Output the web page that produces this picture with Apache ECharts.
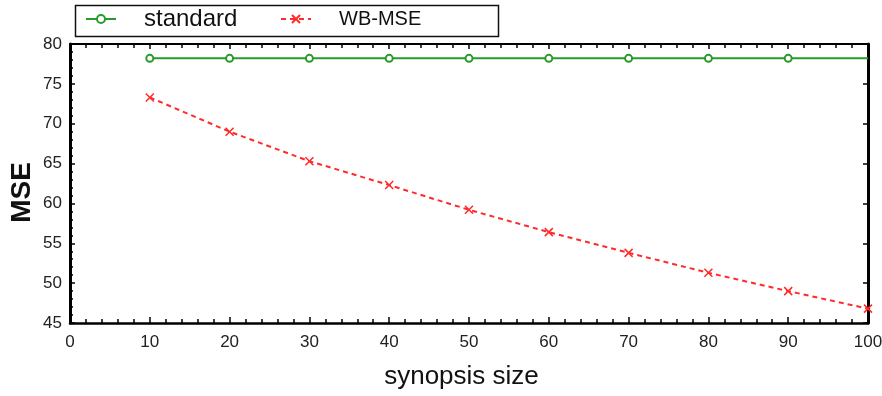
<!DOCTYPE html>
<html><head><meta charset="utf-8">
<script src="https://cdn.jsdelivr.net/npm/echarts@6/dist/echarts.min.js"></script>
<style>html,body{margin:0;padding:0;background:#fff}#c{width:882px;height:396px}</style>
</head><body><div id="c"></div>
<script>
var synopsisSizes = [10, 20, 30, 40, 50, 60, 70, 80, 90, 100];
var standardMSE = [78.2, 78.2, 78.2, 78.2, 78.2, 78.2, 78.2, 78.2, 78.2, 78.2];
var wbMSE = [73.3, 69.0, 65.3, 62.3, 59.2, 56.4, 53.8, 51.3, 49.0, 46.8];
var xTicks = {min: 0, max: 100, interval: 10};
var yTicks = {min: 45, max: 80, interval: 5};

var FONT = 'Liberation Sans, Arial, sans-serif';
var chart = echarts.init(document.getElementById('c'));

function pairs(xs, ys) { return xs.map(function (x, i) { return [x, ys[i]]; }); }
var stdData = pairs(synopsisSizes, standardMSE).map(function (p, i, a) {
  return i === a.length - 1 ? {value: p, symbol: 'none'} : p;
});

chart.setOption({
  animation: false,
  backgroundColor: '#fff',
  grid: {left: 70, right: 14, top: 44, bottom: 73, containLabel: false, outerBoundsMode: 'none'},
  graphic: [{
    type: 'rect', left: 73, top: 3, shape: {width: 423, height: 31},
    style: {fill: 'none', stroke: '#111', lineWidth: 1.5}, silent: true
  }],
  legend: [{
    left: 85, top: 7, padding: 0, itemWidth: 30, itemHeight: 10,
    data: [{name: 'standard'}],
    formatter: '{a|{name}}',
    textStyle: {rich: {a: {fontFamily: FONT, fontSize: 24, color: '#111', padding: [0, 0, 0, 23]}}}
  }, {
    left: 280, top: 9, padding: 0, itemWidth: 30, itemHeight: 10,
    data: [{name: 'WB-MSE'}],
    formatter: '{a|{name}}',
    textStyle: {rich: {a: {fontFamily: FONT, fontSize: 20, color: '#111', padding: [0, 0, 0, 23]}}}
  }],
  xAxis: [{
    type: 'value', min: xTicks.min, max: xTicks.max, interval: xTicks.interval,
    name: 'synopsis size', nameLocation: 'middle', nameGap: 41, nameMoveOverlap: false,
    nameTextStyle: {fontFamily: FONT, fontSize: 26, color: '#111', padding: [0, 15, 0, 0]},
    axisLine: {show: true, onZero: false, lineStyle: {color: '#000', width: 2.5}},
    axisTick: {show: true, inside: true, length: 6, lineStyle: {color: '#000', width: 1.5}},
    minorTick: {show: true, splitNumber: 5, length: 4, lineStyle: {color: '#000', width: 1.5}},
    axisLabel: {fontFamily: FONT, fontSize: 17, color: '#222', margin: 11},
    splitLine: {show: false}
  }, {
    type: 'value', position: 'top', min: xTicks.min, max: xTicks.max, interval: xTicks.interval,
    axisLine: {show: true, lineStyle: {color: '#000', width: 2}},
    axisTick: {show: true, inside: true, length: 5, lineStyle: {color: '#000', width: 1.5}},
    minorTick: {show: true, splitNumber: 5, length: 4, lineStyle: {color: '#000', width: 1.5}},
    axisLabel: {show: false}, splitLine: {show: false}
  }],
  yAxis: [{
    type: 'value', min: yTicks.min, max: yTicks.max, interval: yTicks.interval,
    name: 'MSE', nameLocation: 'middle', nameGap: 34, nameRotate: 90, nameMoveOverlap: false,
    nameTextStyle: {fontFamily: FONT, fontSize: 28, fontWeight: 'bold', color: '#111', padding: [0, 18, 0, 0]},
    axisLine: {show: true, onZero: false, lineStyle: {color: '#000', width: 3}},
    axisTick: {show: true, inside: true, length: 5, lineStyle: {color: '#000', width: 1.5}},
    minorTick: {show: true, splitNumber: 5, length: 3, lineStyle: {color: '#000', width: 1.5}},
    axisLabel: {fontFamily: FONT, fontSize: 17, color: '#222', margin: 8},
    splitLine: {show: false}
  }, {
    type: 'value', position: 'right', min: yTicks.min, max: yTicks.max, interval: yTicks.interval,
    axisLine: {show: true, onZero: false, lineStyle: {color: '#000', width: 3}},
    axisTick: {show: true, inside: true, length: 5, lineStyle: {color: '#000', width: 1.5}},
    axisLabel: {show: false}, splitLine: {show: false}
  }],
  series: [{
    name: 'standard', type: 'line', xAxisIndex: 0, yAxisIndex: 0,
    data: stdData, symbol: 'emptyCircle', symbolSize: 7, showAllSymbol: true,
    lineStyle: {color: '#2a9a2a', width: 2},
    itemStyle: {color: '#2a9a2a', borderColor: '#2a9a2a', borderWidth: 1.5}
  }, {
    name: 'WB-MSE', type: 'line', xAxisIndex: 0, yAxisIndex: 0,
    data: pairs(synopsisSizes, wbMSE),
    symbol: 'path://M0,0L10,10M10,0L0,10', symbolSize: 8, showAllSymbol: true,
    lineStyle: {color: '#ff2a2a', width: 2, type: [5, 4]},
    itemStyle: {color: '#ff2a2a', borderColor: '#ff2a2a', borderWidth: 1.5}
  }]
});
</script></body></html>
